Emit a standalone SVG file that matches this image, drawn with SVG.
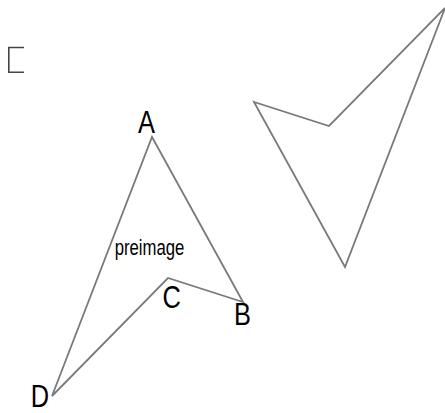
<svg xmlns="http://www.w3.org/2000/svg" width="445" height="413" viewBox="0 0 445 413">
<style>
.shape{fill:none;stroke:#7a7a7a;stroke-width:1.8;stroke-linejoin:miter}
.lbl{font-family:"Liberation Sans",Arial,sans-serif;font-size:31px;fill:#000;text-anchor:middle}
.cap{font-family:"Liberation Sans",Arial,sans-serif;font-size:22px;fill:#000;text-anchor:middle}
.brk{fill:none;stroke:#444;stroke-width:1.6}
</style>
<rect width="445" height="413" fill="#fff"/>
<g id="bracket"><path class="brk" d="M24,47.5 H8.8 V72.3 H24"/></g>
<g id="preimage">
<polygon class="shape" points="152,137 243,302 168,278 52,396"/>
<text class="cap" transform="translate(149.5,255) scale(0.76,1)">preimage</text>
</g>
<g id="image">
<polygon class="shape" points="345,267 254,102 329,126 445,8"/>
</g>
<g id="labels">
<text class="lbl" transform="translate(146.5,133) scale(0.82,1)">A</text>
<text class="lbl" transform="translate(242.5,325) scale(0.82,1)">B</text>
<text class="lbl" transform="translate(171.7,308) scale(0.82,1)">C</text>
<text class="lbl" transform="translate(40,406.5) scale(0.82,1)">D</text>
</g>
</svg>
